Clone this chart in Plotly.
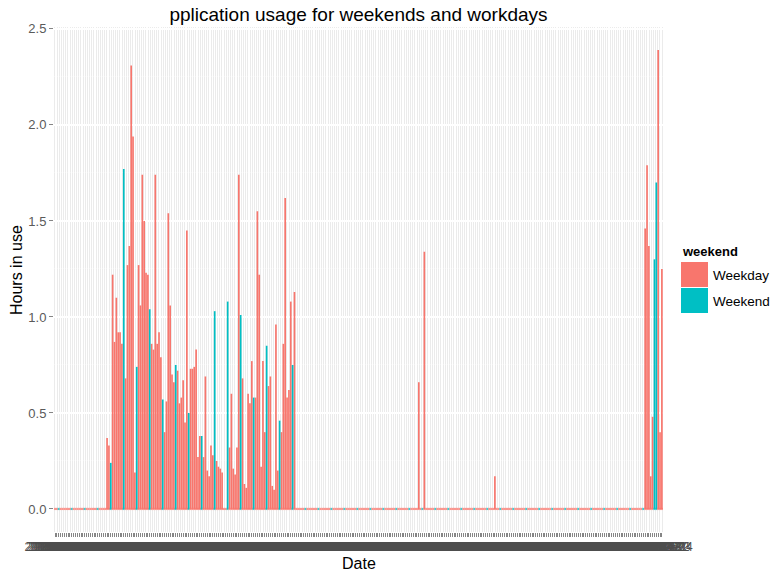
import pandas as pd
import plotly.graph_objects as go

# ---------------- data ----------------
start_date = "2015-04-03"
n_days = 328
dates = pd.date_range(start_date, periods=n_days, freq="D")
date_labels = [d.strftime("%Y-%m-%d") for d in dates]

cluster_1 = [0.37, 0.33, 0.24, 1.22, 0.87, 1.10, 0.92, 0.92, 0.86, 1.77,
             0.68, 1.27, 1.37, 2.31, 1.94, 0.19, 0.74, 1.27, 1.06, 1.74,
             1.50, 1.23, 1.22, 1.04, 0.86, 0.83, 1.74, 0.86, 0.92, 0.79,
             0.57, 0.40, 0.56, 1.54, 1.06, 0.70, 0.66, 0.75, 0.72, 0.55,
             0.58, 0.67, 0.45, 1.45, 0.50, 0.73, 0.73, 0.74, 0.83, 0.27,
             0.38, 0.38, 0.27, 0.69, 0.20, 0.17, 0.33, 0.28, 1.03, 0.25,
             0.22, 0.21, 0.19, 0.00, 0.00, 1.08, 0.32, 0.60, 0.21, 0.18,
             0.32, 1.74, 1.01, 0.68, 0.13, 0.11, 0.60, 0.55, 0.77, 0.58,
             0.58, 1.55, 1.22, 0.22, 0.77, 0.40, 0.85, 0.64, 0.69, 0.12,
             0.10, 0.96, 0.20, 0.46, 0.40, 0.86, 1.62, 0.58, 0.62, 1.08,
             0.75, 1.13]
cluster_2 = [0.66, 0.00, 0.00, 1.34]
cluster_3 = [0.17]
cluster_4 = [1.46, 1.79, 1.37, 0.17, 0.48, 1.30, 1.70, 2.39, 0.40, 1.25]

hours = ([0.0] * 28 + cluster_1 + [0.0] * 66 + cluster_2 + [0.0] * 37
         + cluster_3 + [0.0] * 80 + cluster_4)

extra_weekend_dates = ["2016-02-20"]
day_type = ["Weekend" if (d.dayofweek == 6 or lbl in extra_weekend_dates) else "Weekday"
            for d, lbl in zip(dates, date_labels)]

series_names = ["Weekday", "Weekend"]
series_colors = ["#F8766D", "#00BFC4"]

y_ticks = [0.0, 0.5, 1.0, 1.5, 2.0, 2.5]
y_ticktext = ["0.0", "0.5", "1.0", "1.5", "2.0", "2.5"]

# ---------------- figure ----------------
FONT = "Liberation Sans, Arial, Helvetica, sans-serif"
W, H = 771, 572
ML, MR, MT, MB = 54, 108, 27, 40
PW, PH = W - ML - MR, H - MT - MB


def px_x(px):
    return (px - ML) / PW


def px_y(py):
    return (H - MB - py) / PH


color_of = dict(zip(series_names, series_colors))

fig = go.Figure()

# baseline of zero-height bars (as rendered in the original)
fig.add_trace(go.Scatter(
    x=date_labels, y=[0.0] * len(date_labels), mode="markers",
    marker=dict(symbol="square", size=2.2, color=[color_of[t] for t in day_type],
                line=dict(width=0)),
    opacity=0.75, showlegend=False, hoverinfo="skip"))

for name, col in zip(series_names, series_colors):
    xs = [lbl for lbl, t in zip(date_labels, day_type) if t == name]
    ys = [v for v, t in zip(hours, day_type) if t == name]
    fig.add_trace(go.Bar(x=xs, y=ys, name=name, marker=dict(color=col, line=dict(width=0)),
                         showlegend=False))

fig.update_layout(
    width=W, height=H,
    margin=dict(l=ML, r=MR, t=MT, b=MB, pad=0),
    barmode="overlay", bargap=0.1,
    plot_bgcolor="#EBEBEB", paper_bgcolor="white",
    font=dict(family=FONT, color="#000000"),
    title=dict(text="pplication usage for weekends and workdays",
               x=0.5, xref="paper", xanchor="center",
               y=1 - 14 / H, yref="container", yanchor="middle",
               font=dict(size=19, color="#000000", family=FONT)),
    xaxis=dict(type="category", categoryorder="array", categoryarray=date_labels,
               tickmode="array", tickvals=date_labels, ticktext=date_labels,
               tickangle=0, tickfont=dict(size=12, color="#4D4D4D", family=FONT),
               ticks="outside", ticklen=4, tickcolor="#333333", tickwidth=0.6,
               showgrid=True, gridcolor="#FFFFFF", gridwidth=1,
               range=[-0.6, n_days - 0.4], zeroline=False, showline=False,
               automargin=False, fixedrange=True),
    yaxis=dict(range=[-0.12, 2.51], tickmode="array", tickvals=y_ticks, ticktext=y_ticktext,
               tickfont=dict(size=13, color="#5A5A5A", family=FONT),
               ticks="outside", ticklen=4, tickcolor="#333333", tickwidth=0.6,
               showgrid=True, gridcolor="#FFFFFF", gridwidth=1.2,
               minor=dict(tickvals=[0.25, 0.75, 1.25, 1.75, 2.25], showgrid=True,
                          gridcolor="#F5F5F5", gridwidth=0.6, ticks=""),
               zeroline=False, showline=False, automargin=False, fixedrange=True),
)

annotations = [
    dict(text="Date", x=0.5, y=px_y(563), xref="paper", yref="paper",
         showarrow=False, xanchor="center", yanchor="middle",
         font=dict(size=16, color="#000000", family=FONT)),
    dict(text="Hours in use", x=px_x(16), y=px_y(270), xref="paper", yref="paper",
         showarrow=False, xanchor="center", yanchor="middle", textangle=-90,
         font=dict(size=16, color="#000000", family=FONT)),
    dict(text="<b>weekend</b>", x=px_x(680), y=px_y(252), xref="paper", yref="paper",
         showarrow=False, xanchor="left", yanchor="middle",
         font=dict(size=13, color="#000000", family=FONT)),
]
shapes = []
key_top = 262
key_h = 26
for k, (name, col) in enumerate(zip(series_names, series_colors)):
    top = key_top + k * key_h
    shapes.append(dict(type="rect", xref="paper", yref="paper",
                       x0=px_x(681), x1=px_x(708), y0=px_y(top + key_h - 1), y1=px_y(top),
                       fillcolor=col, line=dict(width=0)))
    annotations.append(dict(text=name, x=px_x(711), y=px_y(top + key_h / 2), xref="paper",
                            yref="paper", showarrow=False, xanchor="left", yanchor="middle",
                            font=dict(size=13.5, color="#000000", family=FONT)))

fig.update_layout(annotations=annotations, shapes=shapes)

fig.write_html("out.html",
               config={"displayModeBar": False, "staticPlot": True},
               post_script="document.body.style.margin='0px';document.body.style.padding='0px';")
